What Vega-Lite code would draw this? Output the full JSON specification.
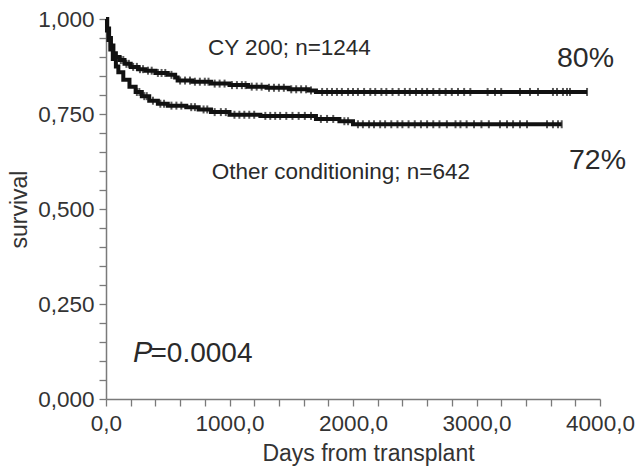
{
  "$schema": "https://vega.github.io/schema/vega-lite/v6.json",
  "width": 494,
  "height": 380,
  "autosize": "none",
  "padding": {"left": 106, "top": 19, "right": 36, "bottom": 68},
  "background": "white",
  "config": {
    "view": {"stroke": null},
    "axis": {
      "grid": false,
      "domainColor": "#7a7a7a",
      "domainWidth": 1.5,
      "tickColor": "#7a7a7a",
      "tickWidth": 1.3,
      "tickSize": 7,
      "labelFont": "Liberation Sans",
      "labelFontSize": 22.5,
      "labelColor": "#333333",
      "titleFont": "Liberation Sans",
      "titleFontSize": 23,
      "titleFontWeight": "normal",
      "titleColor": "#333333",
      "labelOverlap": false,
      "labelFlush": false
    }
  },
  "datasets": {
    "curves": [
      {"group": "CY 200", "day": 0, "surv": 1.0},
      {"group": "CY 200", "day": 10, "surv": 0.975},
      {"group": "CY 200", "day": 25, "surv": 0.95},
      {"group": "CY 200", "day": 40, "surv": 0.93},
      {"group": "CY 200", "day": 60, "surv": 0.91},
      {"group": "CY 200", "day": 80, "surv": 0.9},
      {"group": "CY 200", "day": 110, "surv": 0.892},
      {"group": "CY 200", "day": 150, "surv": 0.882},
      {"group": "CY 200", "day": 200, "surv": 0.874},
      {"group": "CY 200", "day": 260, "surv": 0.868},
      {"group": "CY 200", "day": 320, "surv": 0.864},
      {"group": "CY 200", "day": 400, "surv": 0.858},
      {"group": "CY 200", "day": 500, "surv": 0.853},
      {"group": "CY 200", "day": 560, "surv": 0.846},
      {"group": "CY 200", "day": 580, "surv": 0.838},
      {"group": "CY 200", "day": 700, "surv": 0.835},
      {"group": "CY 200", "day": 850, "surv": 0.83},
      {"group": "CY 200", "day": 1000, "surv": 0.826},
      {"group": "CY 200", "day": 1150, "surv": 0.822},
      {"group": "CY 200", "day": 1300, "surv": 0.819},
      {"group": "CY 200", "day": 1480, "surv": 0.815},
      {"group": "CY 200", "day": 1640, "surv": 0.812},
      {"group": "CY 200", "day": 1700, "surv": 0.808},
      {"group": "CY 200", "day": 3895, "surv": 0.808},
      {"group": "Other", "day": 0, "surv": 1.0},
      {"group": "Other", "day": 8, "surv": 0.97},
      {"group": "Other", "day": 20, "surv": 0.945},
      {"group": "Other", "day": 35, "surv": 0.92},
      {"group": "Other", "day": 55, "surv": 0.895},
      {"group": "Other", "day": 80, "surv": 0.875},
      {"group": "Other", "day": 100, "surv": 0.86},
      {"group": "Other", "day": 140, "surv": 0.84},
      {"group": "Other", "day": 190, "surv": 0.822},
      {"group": "Other", "day": 240, "surv": 0.808},
      {"group": "Other", "day": 290, "surv": 0.797},
      {"group": "Other", "day": 350, "surv": 0.785},
      {"group": "Other", "day": 420, "surv": 0.777},
      {"group": "Other", "day": 500, "surv": 0.772},
      {"group": "Other", "day": 650, "surv": 0.768},
      {"group": "Other", "day": 750, "surv": 0.762},
      {"group": "Other", "day": 850, "surv": 0.755},
      {"group": "Other", "day": 1000, "surv": 0.748},
      {"group": "Other", "day": 1250, "surv": 0.745},
      {"group": "Other", "day": 1700, "surv": 0.737},
      {"group": "Other", "day": 1890, "surv": 0.731},
      {"group": "Other", "day": 2000, "surv": 0.723},
      {"group": "Other", "day": 3690, "surv": 0.723}
    ],
    "censor": [
      {"group": "CY 200", "day": 120, "surv": 0.892},
      {"group": "CY 200", "day": 140, "surv": 0.892},
      {"group": "CY 200", "day": 165, "surv": 0.882},
      {"group": "CY 200", "day": 185, "surv": 0.882},
      {"group": "CY 200", "day": 220, "surv": 0.874},
      {"group": "CY 200", "day": 250, "surv": 0.874},
      {"group": "CY 200", "day": 275, "surv": 0.868},
      {"group": "CY 200", "day": 300, "surv": 0.868},
      {"group": "CY 200", "day": 340, "surv": 0.864},
      {"group": "CY 200", "day": 370, "surv": 0.864},
      {"group": "CY 200", "day": 420, "surv": 0.858},
      {"group": "CY 200", "day": 450, "surv": 0.858},
      {"group": "CY 200", "day": 480, "surv": 0.858},
      {"group": "CY 200", "day": 530, "surv": 0.853},
      {"group": "CY 200", "day": 600, "surv": 0.838},
      {"group": "CY 200", "day": 640, "surv": 0.838},
      {"group": "CY 200", "day": 680, "surv": 0.838},
      {"group": "CY 200", "day": 720, "surv": 0.835},
      {"group": "CY 200", "day": 760, "surv": 0.835},
      {"group": "CY 200", "day": 800, "surv": 0.835},
      {"group": "CY 200", "day": 830, "surv": 0.835},
      {"group": "CY 200", "day": 880, "surv": 0.83},
      {"group": "CY 200", "day": 920, "surv": 0.83},
      {"group": "CY 200", "day": 960, "surv": 0.83},
      {"group": "CY 200", "day": 1020, "surv": 0.826},
      {"group": "CY 200", "day": 1060, "surv": 0.826},
      {"group": "CY 200", "day": 1100, "surv": 0.826},
      {"group": "CY 200", "day": 1130, "surv": 0.826},
      {"group": "CY 200", "day": 1180, "surv": 0.822},
      {"group": "CY 200", "day": 1220, "surv": 0.822},
      {"group": "CY 200", "day": 1260, "surv": 0.822},
      {"group": "CY 200", "day": 1320, "surv": 0.819},
      {"group": "CY 200", "day": 1360, "surv": 0.819},
      {"group": "CY 200", "day": 1400, "surv": 0.819},
      {"group": "CY 200", "day": 1440, "surv": 0.819},
      {"group": "CY 200", "day": 1500, "surv": 0.815},
      {"group": "CY 200", "day": 1540, "surv": 0.815},
      {"group": "CY 200", "day": 1580, "surv": 0.815},
      {"group": "CY 200", "day": 1620, "surv": 0.815},
      {"group": "CY 200", "day": 1660, "surv": 0.812},
      {"group": "CY 200", "day": 1750, "surv": 0.808},
      {"group": "CY 200", "day": 1790, "surv": 0.808},
      {"group": "CY 200", "day": 1830, "surv": 0.808},
      {"group": "CY 200", "day": 1870, "surv": 0.808},
      {"group": "CY 200", "day": 1910, "surv": 0.808},
      {"group": "CY 200", "day": 1960, "surv": 0.808},
      {"group": "CY 200", "day": 2000, "surv": 0.808},
      {"group": "CY 200", "day": 2040, "surv": 0.808},
      {"group": "CY 200", "day": 2090, "surv": 0.808},
      {"group": "CY 200", "day": 2140, "surv": 0.808},
      {"group": "CY 200", "day": 2180, "surv": 0.808},
      {"group": "CY 200", "day": 2230, "surv": 0.808},
      {"group": "CY 200", "day": 2270, "surv": 0.808},
      {"group": "CY 200", "day": 2320, "surv": 0.808},
      {"group": "CY 200", "day": 2370, "surv": 0.808},
      {"group": "CY 200", "day": 2420, "surv": 0.808},
      {"group": "CY 200", "day": 2460, "surv": 0.808},
      {"group": "CY 200", "day": 2510, "surv": 0.808},
      {"group": "CY 200", "day": 2560, "surv": 0.808},
      {"group": "CY 200", "day": 2600, "surv": 0.808},
      {"group": "CY 200", "day": 2650, "surv": 0.808},
      {"group": "CY 200", "day": 2700, "surv": 0.808},
      {"group": "CY 200", "day": 2750, "surv": 0.808},
      {"group": "CY 200", "day": 2800, "surv": 0.808},
      {"group": "CY 200", "day": 2850, "surv": 0.808},
      {"group": "CY 200", "day": 2900, "surv": 0.808},
      {"group": "CY 200", "day": 2950, "surv": 0.808},
      {"group": "CY 200", "day": 3090, "surv": 0.808},
      {"group": "CY 200", "day": 3150, "surv": 0.808},
      {"group": "CY 200", "day": 3200, "surv": 0.808},
      {"group": "CY 200", "day": 3352, "surv": 0.808},
      {"group": "CY 200", "day": 3433, "surv": 0.808},
      {"group": "CY 200", "day": 3498, "surv": 0.808},
      {"group": "CY 200", "day": 3619, "surv": 0.808},
      {"group": "CY 200", "day": 3652, "surv": 0.808},
      {"group": "CY 200", "day": 3700, "surv": 0.808},
      {"group": "CY 200", "day": 3733, "surv": 0.808},
      {"group": "CY 200", "day": 3757, "surv": 0.808},
      {"group": "CY 200", "day": 3895, "surv": 0.808},
      {"group": "Other", "day": 250, "surv": 0.808},
      {"group": "Other", "day": 270, "surv": 0.808},
      {"group": "Other", "day": 310, "surv": 0.797},
      {"group": "Other", "day": 330, "surv": 0.797},
      {"group": "Other", "day": 380, "surv": 0.785},
      {"group": "Other", "day": 440, "surv": 0.777},
      {"group": "Other", "day": 470, "surv": 0.777},
      {"group": "Other", "day": 530, "surv": 0.772},
      {"group": "Other", "day": 570, "surv": 0.772},
      {"group": "Other", "day": 610, "surv": 0.772},
      {"group": "Other", "day": 690, "surv": 0.768},
      {"group": "Other", "day": 720, "surv": 0.768},
      {"group": "Other", "day": 790, "surv": 0.762},
      {"group": "Other", "day": 820, "surv": 0.762},
      {"group": "Other", "day": 880, "surv": 0.755},
      {"group": "Other", "day": 930, "surv": 0.755},
      {"group": "Other", "day": 970, "surv": 0.755},
      {"group": "Other", "day": 1040, "surv": 0.748},
      {"group": "Other", "day": 1080, "surv": 0.748},
      {"group": "Other", "day": 1120, "surv": 0.748},
      {"group": "Other", "day": 1160, "surv": 0.748},
      {"group": "Other", "day": 1200, "surv": 0.748},
      {"group": "Other", "day": 1290, "surv": 0.745},
      {"group": "Other", "day": 1330, "surv": 0.745},
      {"group": "Other", "day": 1370, "surv": 0.745},
      {"group": "Other", "day": 1410, "surv": 0.745},
      {"group": "Other", "day": 1460, "surv": 0.745},
      {"group": "Other", "day": 1510, "surv": 0.745},
      {"group": "Other", "day": 1560, "surv": 0.745},
      {"group": "Other", "day": 1610, "surv": 0.745},
      {"group": "Other", "day": 1660, "surv": 0.745},
      {"group": "Other", "day": 1740, "surv": 0.737},
      {"group": "Other", "day": 1790, "surv": 0.737},
      {"group": "Other", "day": 1840, "surv": 0.737},
      {"group": "Other", "day": 1930, "surv": 0.731},
      {"group": "Other", "day": 1960, "surv": 0.731},
      {"group": "Other", "day": 2040, "surv": 0.723},
      {"group": "Other", "day": 2080, "surv": 0.723},
      {"group": "Other", "day": 2130, "surv": 0.723},
      {"group": "Other", "day": 2170, "surv": 0.723},
      {"group": "Other", "day": 2220, "surv": 0.723},
      {"group": "Other", "day": 2260, "surv": 0.723},
      {"group": "Other", "day": 2310, "surv": 0.723},
      {"group": "Other", "day": 2360, "surv": 0.723},
      {"group": "Other", "day": 2400, "surv": 0.723},
      {"group": "Other", "day": 2450, "surv": 0.723},
      {"group": "Other", "day": 2500, "surv": 0.723},
      {"group": "Other", "day": 2550, "surv": 0.723},
      {"group": "Other", "day": 2600, "surv": 0.723},
      {"group": "Other", "day": 2650, "surv": 0.723},
      {"group": "Other", "day": 2700, "surv": 0.723},
      {"group": "Other", "day": 2760, "surv": 0.723},
      {"group": "Other", "day": 2830, "surv": 0.723},
      {"group": "Other", "day": 2870, "surv": 0.723},
      {"group": "Other", "day": 2920, "surv": 0.723},
      {"group": "Other", "day": 2980, "surv": 0.723},
      {"group": "Other", "day": 3040, "surv": 0.723},
      {"group": "Other", "day": 3100, "surv": 0.723},
      {"group": "Other", "day": 3190, "surv": 0.723},
      {"group": "Other", "day": 3247, "surv": 0.723},
      {"group": "Other", "day": 3296, "surv": 0.723},
      {"group": "Other", "day": 3352, "surv": 0.723},
      {"group": "Other", "day": 3409, "surv": 0.723},
      {"group": "Other", "day": 3571, "surv": 0.723},
      {"group": "Other", "day": 3619, "surv": 0.723},
      {"group": "Other", "day": 3660, "surv": 0.723},
      {"group": "Other", "day": 3690, "surv": 0.723}
    ],
    "labels": [
      {"text": "CY 200; n=1244", "day": 826, "surv": 0.905},
      {"text": "Other conditioning; n=642", "day": 856, "surv": 0.578}
    ],
    "pct": [
      {"text": "80%", "day": 3652, "surv": 0.874},
      {"text": "72%", "day": 3749, "surv": 0.6045}
    ],
    "pletter": [
      {"text": "P", "day": 219, "surv": 0.098}
    ],
    "pvalue": [
      {"text": "=0.0004", "day": 360, "surv": 0.098}
    ]
  },
  "layer": [
    {
      "data": {"name": "curves"},
      "mark": {"type": "line", "interpolate": "step-after", "color": "#111111", "strokeWidth": 4},
      "encoding": {
        "x": {
          "field": "day", "type": "quantitative",
          "scale": {"domain": [0, 4000], "nice": false, "zero": true},
          "axis": {
            "title": "Days from transplant",
            "titlePadding": 8,
            "titleX": 262,
            "labelOverlap": false,
            "labelBound": false,
            "tickCount": 50,
            "values": [0, 200, 400, 600, 800, 1000, 1200, 1400, 1600, 1800, 2000, 2200, 2400, 2600, 2800, 3000, 3200, 3400, 3600, 3800, 4000],
            "labelExpr": "datum.value % 1000 == 0 ? replace(format(datum.value, '.1f'), '.', ',') : ''",
            "labelAlign": "center",
            "labelDx": {"condition": {"test": "datum.value == 0", "value": 13}, "value": -6},
            "labelPadding": 6
          }
        },
        "y": {
          "field": "surv", "type": "quantitative",
          "scale": {"domain": [0, 1], "nice": false},
          "axis": {
            "title": "survival",
            "titlePadding": 6,
            "labelOverlap": false,
            "labelBound": false,
            "tickCount": 50,
            "values": [0, 0.05, 0.1, 0.15, 0.2, 0.25, 0.3, 0.35, 0.4, 0.45, 0.5, 0.55, 0.6, 0.65, 0.7, 0.75, 0.8, 0.85, 0.9, 0.95, 1],
            "labelExpr": "abs(datum.value * 4 - round(datum.value * 4)) < 0.000001 ? replace(format(datum.value, '.3f'), '.', ',') : ''",
            "labelPadding": 5
          }
        },
        "detail": {"field": "group"}
      }
    },
    {
      "data": {"name": "censor"},
      "mark": {"type": "tick", "orient": "vertical", "color": "#111111", "size": 8, "thickness": 2},
      "encoding": {
        "x": {"field": "day", "type": "quantitative"},
        "y": {"field": "surv", "type": "quantitative"}
      }
    },
    {
      "data": {"name": "labels"},
      "mark": {"type": "text", "align": "left", "baseline": "alphabetic", "font": "Liberation Sans", "fontSize": 22.5, "color": "#2a2a2a"},
      "encoding": {
        "x": {"field": "day", "type": "quantitative"},
        "y": {"field": "surv", "type": "quantitative"},
        "text": {"field": "text"}
      }
    },
    {
      "data": {"name": "pct"},
      "mark": {"type": "text", "align": "left", "baseline": "alphabetic", "font": "Liberation Sans", "fontSize": 28.5, "color": "#2a2a2a"},
      "encoding": {
        "x": {"field": "day", "type": "quantitative"},
        "y": {"field": "surv", "type": "quantitative"},
        "text": {"field": "text"}
      }
    },
    {
      "data": {"name": "pletter"},
      "mark": {"type": "text", "align": "left", "baseline": "alphabetic", "font": "Liberation Sans", "fontStyle": "italic", "fontSize": 29, "color": "#2a2a2a"},
      "encoding": {
        "x": {"field": "day", "type": "quantitative"},
        "y": {"field": "surv", "type": "quantitative"},
        "text": {"field": "text"}
      }
    },
    {
      "data": {"name": "pvalue"},
      "mark": {"type": "text", "align": "left", "baseline": "alphabetic", "font": "Liberation Sans", "fontSize": 28, "color": "#2a2a2a"},
      "encoding": {
        "x": {"field": "day", "type": "quantitative"},
        "y": {"field": "surv", "type": "quantitative"},
        "text": {"field": "text"}
      }
    }
  ]
}
